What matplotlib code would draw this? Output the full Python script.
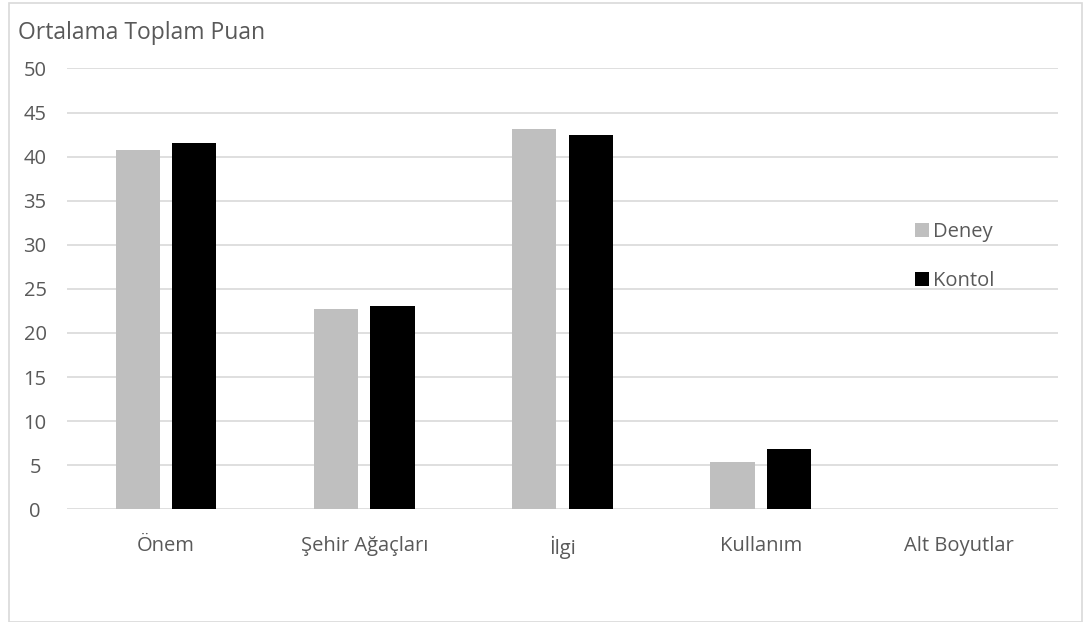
import numpy as np
import matplotlib.pyplot as plt
from matplotlib.patches import Rectangle

categories = ['Önem', 'Şehir Ağaçları', 'İlgi', 'Kullanım', 'Alt Boyutlar']
deney = [40.8, 22.7, 43.1, 5.4, np.nan]
kontol = [41.5, 23.1, 42.4, 6.8, np.nan]
yticks = [0, 5, 10, 15, 20, 25, 30, 35, 40, 45, 50]

plt.rcParams['font.family'] = ['Open Sans', 'DejaVu Sans']
txt = '#595959'

fig = plt.figure(figsize=(10.84, 6.22), dpi=100)
ax = fig.add_axes([0.0618, 0.1812, 0.9142, 0.7088])

x = np.arange(len(categories))
w = 0.223
ax.bar(x - 0.142, deney, w, color='#bfbfbf', label='Deney', zorder=3)
ax.bar(x + 0.142, kontol, w, color='#000000', label='Kontol', zorder=3)

ax.set_xlim(-0.5, len(categories) - 0.5)
ax.set_ylim(0, 50)
ax.set_yticks(yticks)
ax.set_xticks(x)
ax.set_xticklabels(categories)
ax.tick_params(length=0, labelsize=14.5, colors=txt)
ax.tick_params(axis='x', pad=19)
ax.tick_params(axis='y', pad=23)
for lab in ax.get_yticklabels():
    lab.set_horizontalalignment('center')
ax.yaxis.grid(True, color='#d9d9d9', linewidth=1.2, zorder=0)
for s in ax.spines.values():
    s.set_visible(False)

fig.text(18 / 1084, 1 - 33 / 622, 'Ortalama Toplam Puan', fontsize=16.5,
         color=txt, va='center', ha='left')

leg = ax.legend(loc='upper left', bbox_to_anchor=(907 / 1084, 1 - 214 / 622),
                bbox_transform=fig.transFigure, frameon=False, fontsize=14.5,
                handlelength=0.7, handleheight=0.7, handletextpad=0.2,
                labelspacing=1.45, borderaxespad=0)
for t in leg.get_texts():
    t.set_color(txt)

# thin frame round the whole chart
fig.patches.append(Rectangle((9 / 1084, 0), 1073 / 1084, 1 - 3 / 622,
                             transform=fig.transFigure, fill=False,
                             edgecolor='#d9d9d9', linewidth=1.2))

fig.savefig('out.png', dpi=100)
